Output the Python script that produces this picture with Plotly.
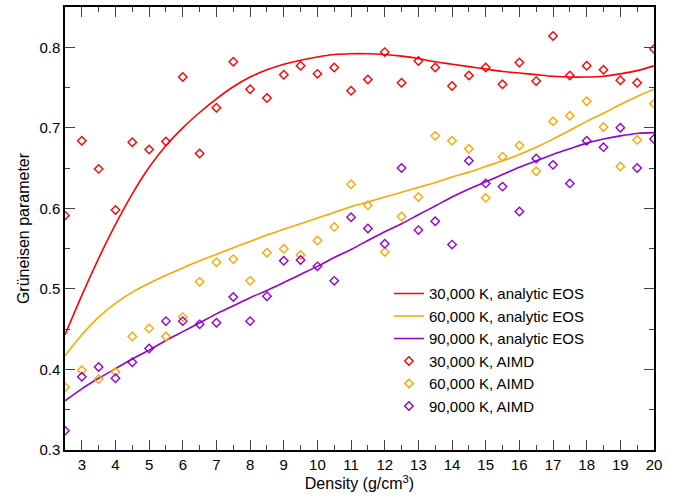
import plotly.graph_objects as go

# Densities (g/cm^3) shared by the AIMD points and the analytic EOS curves
density = [2.5, 3, 3.5, 4, 4.5, 5, 5.5, 6, 6.5, 7, 7.5, 8, 8.5, 9, 9.5, 10,
           10.5, 11, 11.5, 12, 12.5, 13, 13.5, 14, 14.5, 15, 15.5, 16, 16.5,
           17, 17.5, 18, 18.5, 19, 19.5, 20]

# AIMD Grüneisen parameters
gamma_aimd_30k = [0.591, 0.684, 0.649, 0.598, 0.682, 0.673, 0.683, 0.763, 0.668,
                  0.725, 0.782, 0.748, 0.737, 0.766, 0.777, 0.767, 0.775, 0.746,
                  0.760, 0.794, 0.756, 0.783, 0.775, 0.752, 0.765, 0.775, 0.754,
                  0.781, 0.758, 0.814, 0.765, 0.777, 0.772, 0.759, 0.756, 0.798]

gamma_aimd_60k = [0.378, 0.399, 0.388, 0.397, 0.441, 0.451, 0.441, 0.465, 0.509,
                  0.533, 0.537, 0.510, 0.545, 0.550, 0.542, 0.560, 0.577, 0.630,
                  0.604, 0.546, 0.590, 0.614, 0.690, 0.684, 0.674, 0.613, 0.664,
                  0.678, 0.646, 0.708, 0.715, 0.733, 0.701, 0.652, 0.685, 0.730]

gamma_aimd_90k = [0.324, 0.391, 0.403, 0.389, 0.409, 0.426, 0.460, 0.460, 0.456,
                  0.458, 0.490, 0.460, 0.491, 0.535, 0.536, 0.528, 0.510, 0.589,
                  0.575, 0.556, 0.650, 0.573, 0.584, 0.555, 0.659, 0.631, 0.627,
                  0.596, 0.662, 0.654, 0.631, 0.684, 0.676, 0.700, 0.650, 0.686]

# Analytic EOS Grüneisen parameters
gamma_eos_30k = [0.443, 0.492, 0.538, 0.580, 0.618, 0.651, 0.678, 0.700, 0.719,
                 0.736, 0.751, 0.763, 0.772, 0.779, 0.784, 0.788, 0.791, 0.792,
                 0.792, 0.791, 0.789, 0.786, 0.782, 0.779, 0.776, 0.773, 0.770,
                 0.768, 0.766, 0.764, 0.763, 0.763, 0.764, 0.767, 0.771, 0.777]

gamma_eos_60k = [0.417, 0.443, 0.465, 0.482, 0.496, 0.507, 0.517, 0.526, 0.535,
                 0.543, 0.551, 0.559, 0.567, 0.574, 0.581, 0.588, 0.595, 0.602,
                 0.608, 0.614, 0.620, 0.626, 0.632, 0.639, 0.645, 0.652, 0.659,
                 0.667, 0.676, 0.686, 0.697, 0.708, 0.718, 0.729, 0.739, 0.748]

gamma_eos_90k = [0.361, 0.376, 0.389, 0.401, 0.413, 0.424, 0.436, 0.447, 0.458,
                 0.469, 0.479, 0.489, 0.498, 0.508, 0.518, 0.528, 0.539, 0.549,
                 0.560, 0.571, 0.581, 0.592, 0.603, 0.614, 0.624, 0.633, 0.642,
                 0.651, 0.659, 0.667, 0.674, 0.681, 0.686, 0.690, 0.693, 0.694]

x_ticks = list(range(3, 21))
y_ticks = [0.3, 0.4, 0.5, 0.6, 0.7, 0.8]

RED = "#ff0000"
ORANGE = "#ffa500"
PURPLE = "#9400d3"
FONT = "Liberation Sans, Arial, sans-serif"

fig = go.Figure()

for name, ys, col in [("30,000 K, analytic EOS", gamma_eos_30k, RED),
                      ("60,000 K, analytic EOS", gamma_eos_60k, ORANGE),
                      ("90,000 K, analytic EOS", gamma_eos_90k, PURPLE)]:
    fig.add_trace(go.Scatter(x=density, y=ys, mode="lines", name=name,
                             line=dict(color=col, width=1.6, shape="spline",
                                       smoothing=1.0)))

for name, ys, col in [("30,000 K, AIMD", gamma_aimd_30k, RED),
                      ("60,000 K, AIMD", gamma_aimd_60k, ORANGE),
                      ("90,000 K, AIMD", gamma_aimd_90k, PURPLE)]:
    fig.add_trace(go.Scatter(x=density, y=ys, mode="markers", name=name,
                             marker=dict(symbol="diamond-open", size=6.5,
                                         color=col, line=dict(width=1.4))))

axis_common = dict(
    showline=True, linecolor="black", linewidth=1.5, mirror="ticks",
    ticks="inside", ticklen=10, tickwidth=1.2, tickcolor="#444444",
    showgrid=False, zeroline=False,
    tickfont=dict(family=FONT, size=15, color="black"),
)

fig.update_xaxes(
    range=[2.5, 20], tickvals=x_ticks,
    minor=dict(ticks="inside", ticklen=5, dtick=0.5, tick0=2.5,
               tickcolor="#444444", tickwidth=1.2),
    title=dict(text="Density (g/cm<sup>3</sup>)", standoff=4,
               font=dict(family=FONT, size=16, color="black")),
    **axis_common,
)
fig.update_yaxes(
    range=[0.3, 0.85], tickvals=y_ticks, tickformat=".1f",
    minor=dict(ticks="inside", ticklen=5, dtick=0.05, tick0=0.3,
               tickcolor="#444444", tickwidth=1.2),
    title=dict(text="Grüneisen parameter", standoff=6,
               font=dict(family=FONT, size=16, color="black")),
    **axis_common,
)

fig.update_layout(
    width=694, height=502,
    margin=dict(l=65, r=40, t=5, b=52),
    plot_bgcolor="white", paper_bgcolor="white",
    font=dict(family=FONT, size=15, color="black"),
    legend=dict(x=0.55, y=0.39, xanchor="left", yanchor="top",
                bgcolor="rgba(0,0,0,0)", tracegroupgap=0, itemwidth=30,
                font=dict(size=15)),
)

fig.write_html("out.html")
